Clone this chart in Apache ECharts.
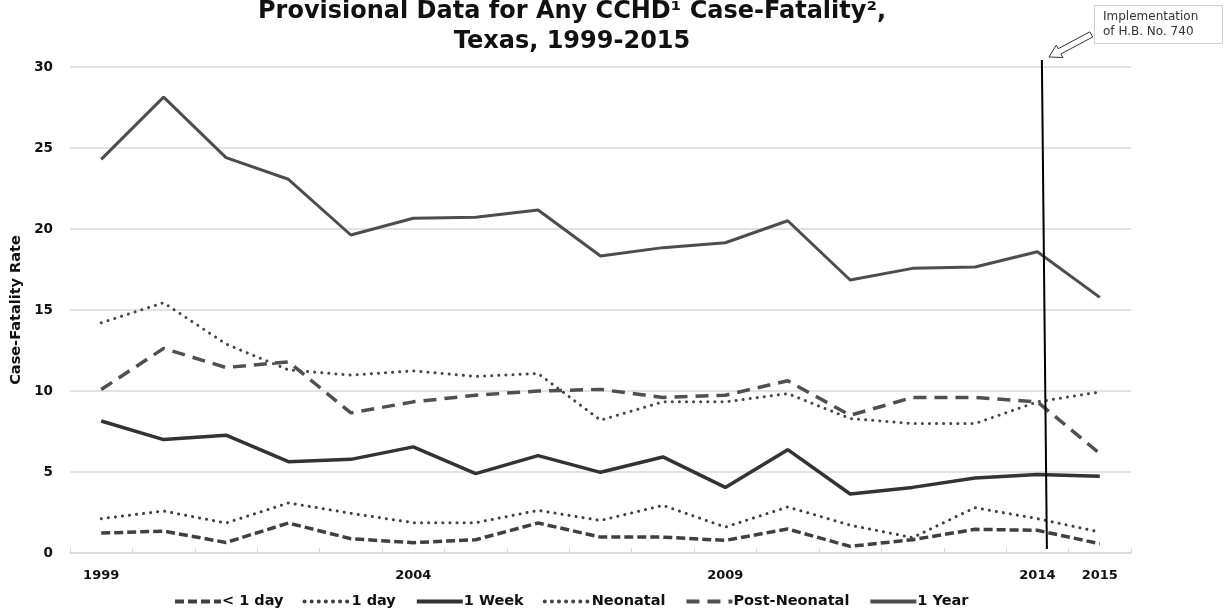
<!DOCTYPE html>
<html>
<head>
<meta charset="utf-8">
<script src="https://cdn.jsdelivr.net/npm/echarts@6/dist/echarts.min.js"></script>
<style>
html,body{margin:0;padding:0;background:#fff;}
#chart{width:1227px;height:614px;}
</style>
</head>
<body>
<div id="chart"></div>
<script>
const years = ['1999','2000','2001','2002','2003','2004','2005','2006','2007','2008','2009','2010','2011','2012','2013','2014','2015'];
const shownYearLabels = ['1999','2004','2009','2014','2015'];
const lessThan1Day = [1.23,1.35,0.65,1.85,0.88,0.64,0.82,1.85,0.98,0.98,0.78,1.48,0.41,0.82,1.46,1.40,0.57];
const oneDay = [2.12,2.59,1.85,3.09,2.45,1.87,1.87,2.63,2.01,2.94,1.60,2.84,1.72,0.95,2.80,2.12,1.29];
const oneWeek = [8.15,7.00,7.27,5.64,5.78,6.55,4.90,6.01,4.98,5.93,4.05,6.38,3.64,4.05,4.63,4.84,4.73];
const neonatal = [14.21,15.45,12.9,11.3,10.98,11.24,10.9,11.08,8.2,9.33,9.33,9.84,8.3,7.99,7.99,9.33,9.94];
const postNeonatal = [10.09,12.63,11.45,11.8,8.65,9.33,9.74,10.0,10.1,9.6,9.74,10.63,8.5,9.6,9.6,9.33,6.14];
const oneYear = [24.3,28.14,24.41,23.07,19.63,20.66,20.72,21.17,18.33,18.85,19.15,20.51,16.85,17.57,17.65,18.6,15.78];
const seriesNames = ['< 1 day','1 day','1 Week','Neonatal','Post-Neonatal','1 Year'];
const titleText = 'Provisional Data for Any CCHD\u00b9 Case-Fatality\u00b2,\nTexas, 1999-2015';
const noteText = 'Implementation\nof H.B. No. 740';
const yAxisTitle = 'Case-Fatality Rate';

const FONT = '"DejaVu Sans", Verdana, sans-serif';
const chart = echarts.init(document.getElementById('chart'), null, {renderer:'canvas'});

function lineSeries(name, data, color, width, dash, cap) {
  return {
    name: name, type: 'line', data: data, symbol: 'none', showSymbol: false, smooth: false,
    lineStyle: {color: color, width: width, type: dash, cap: cap || 'butt'},
    itemStyle: {color: color},
    emphasis: {disabled: true},
    z: 3
  };
}

const option = {
  animation: false,
  backgroundColor: '#ffffff',
  title: {
    text: titleText,
    left: 567, top: -8, textAlign: 'center',
    textStyle: {fontFamily: FONT, fontWeight: 'bold', fontSize: 24, color: '#111', lineHeight: 30}
  },
  grid: {left: 70, right: 96, top: 67, bottom: 61, containLabel: false},
  legend: {
    data: seriesNames,
    bottom: 0, left: 168,
    itemWidth: 46, itemHeight: 12, itemGap: 19,
    itemStyle: {opacity: 0},
    lineStyle: {width: 4},
    textStyle: {fontFamily: FONT, fontWeight: 'bold', fontSize: 14.5, color: '#111', padding: [0,0,0,-4]},
    selectedMode: false
  },
  xAxis: {
    type: 'category', data: years, boundaryGap: true,
    axisLine: {show: true, lineStyle: {color: '#d9d9d9', width: 1.5}},
    axisTick: {show: true, inside: true, length: 5, alignWithLabel: false, interval: 0, lineStyle: {color: '#d9d9d9'}},
    axisLabel: {
      interval: function(i, v){ return shownYearLabels.indexOf(v) >= 0; },
      margin: 16, fontFamily: FONT, fontWeight: 'bold', fontSize: 13, color: '#111'
    },
    splitLine: {show: false}
  },
  yAxis: {
    type: 'value', min: 0, max: 30, interval: 5,
    name: yAxisTitle, nameLocation: 'middle', nameGap: 42, nameRotate: 90,
    nameTextStyle: {fontFamily: FONT, fontWeight: 'bold', fontSize: 14.5, color: '#111'},
    axisLine: {show: false}, axisTick: {show: false},
    axisLabel: {margin: 17, fontFamily: FONT, fontWeight: 'bold', fontSize: 13.5, color: '#111'},
    splitLine: {show: true, lineStyle: {color: '#d9d9d9', width: 1.5}}
  },
  series: [
    lineSeries(seriesNames[0], lessThan1Day, '#404040', 3.5, [9, 4]),
    lineSeries(seriesNames[1], oneDay, '#404040', 3, [0.1, 7], 'round'),
    lineSeries(seriesNames[2], oneWeek, '#333333', 3.5, 'solid'),
    lineSeries(seriesNames[3], neonatal, '#474747', 3, [0.1, 7], 'round'),
    lineSeries(seriesNames[4], postNeonatal, '#505050', 3.5, [13, 8]),
    lineSeries(seriesNames[5], oneYear, '#4d4d4d', 3, 'solid')
  ]
};
chart.setOption(option);

// Annotation: vertical implementation line, arrow and note box
const px14 = chart.convertToPixel({xAxisIndex: 0}, '2014');
const pyTop = chart.convertToPixel({yAxisIndex: 0}, 30);
const pyBot = chart.convertToPixel({yAxisIndex: 0}, 0);
chart.setOption({
  graphic: [
    {type: 'line', z: 10, shape: {x1: px14 + 4.5, y1: pyTop - 7, x2: px14 + 9.5, y2: pyBot - 4},
     style: {stroke: '#000', lineWidth: 2}},
    {type: 'polygon', z: 10, shape: {points: [[1049,57],[1056.3,45.1],[1058.2,48.7],[1089.9,31.8],[1092.7,37],[1061,53.9],[1062.9,57.5]]},
     style: {fill: '#fff', stroke: '#333', lineWidth: 1}},
    {type: 'rect', z: 10, shape: {x: 1094.5, y: 5.5, width: 128, height: 38},
     style: {fill: '#fff', stroke: '#d0d0d0', lineWidth: 1}},
    {type: 'text', z: 11, left: 1103, top: 9,
     style: {text: noteText, font: '12px "DejaVu Sans", Verdana, sans-serif', fill: '#333', lineHeight: 15}}
  ]
});
</script>
</body>
</html>
